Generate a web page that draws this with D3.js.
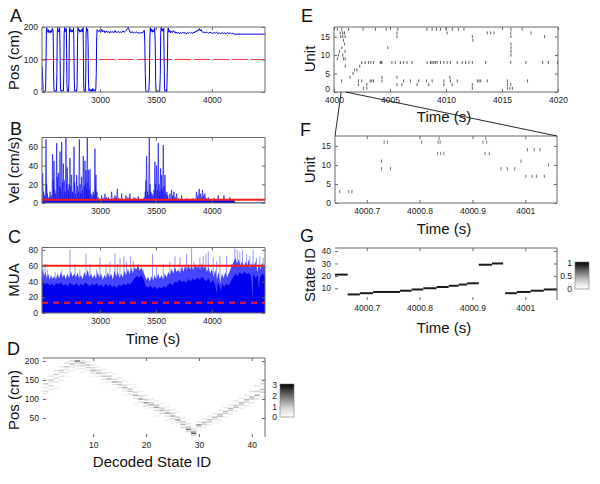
<!DOCTYPE html>
<html>
<head>
<meta charset="utf-8">
<script src="https://cdn.jsdelivr.net/npm/d3@7"></script>
<style>
  body { margin: 0; background: #fff; }
  svg { display: block; }
</style>
</head>
<body>
<div id="vis"></div>
<script>

var width = 600,
  height = 484;

var font = "'Liberation Sans', Arial, Helvetica, sans-serif";

/* Data */

// A: position trace [time s, pos cm]
var posTrace = [
  [2482,80],[2485,70],[2489,30],[2492,4],[2497,1],[2503,3],[2509,1],[2514,8],[2518,90],[2521,185],[2524,198],[2528,186],[2533,184],[2538,192],[2544,183],[2550,188],[2556,182],[2562,190],[2568,184],[2574,196],[2580,192],[2583,150],[2586,50],[2589,6],[2595,2],[2601,5],[2607,1],[2612,6],[2615,60],[2618,170],[2621,199],[2626,186],[2631,190],[2636,184],[2640,198],[2643,140],[2646,30],[2650,3],[2656,1],[2662,6],[2668,2],[2674,4],[2677,70],[2680,180],[2684,198],[2689,185],[2694,191],[2699,196],[2702,130],[2705,20],[2709,2],[2714,5],[2719,1],[2723,30],[2726,160],[2729,199],[2735,186],[2741,192],[2747,184],[2753,190],[2759,185],[2764,197],[2767,150],[2770,40],[2774,3],[2780,1],[2786,6],[2792,2],[2796,20],[2799,150],[2803,199],[2809,188],[2815,192],[2821,184],[2827,190],[2833,186],[2839,193],[2845,185],[2849,198],[2852,120],[2855,15],[2859,2],[2864,5],[2869,1],[2873,50],[2876,180],[2880,199],[2885,188],[2890,194],[2894,150],[2897,40],[2901,4],[2908,10],[2915,2],[2922,8],[2929,1],[2936,11],[2943,3],[2950,7],[2957,2],[2963,9],[2967,60],[2971,170],[2975,192],
  [2985,186],[2995,190],[3005,183],[3015,193],[3025,185],[3035,189],[3045,182],[3055,188],[3065,184],[3075,186],[3085,181],[3095,187],[3105,183],[3115,186],[3125,182],[3135,189],[3145,184],[3155,183],[3165,187],[3175,182],[3185,185],[3195,183],[3205,188],[3215,184],[3225,186],[3235,190],[3245,195],[3252,199],[3260,192],[3268,184],[3278,183],[3288,186],[3298,181],[3308,184],[3318,182],[3328,185],[3338,181],[3348,183],[3358,180],[3368,184],[3378,181],[3388,185],[3396,190],
  [3401,150],[3405,60],[3409,5],[3415,1],[3422,4],[3430,1],[3437,3],[3442,40],[3446,160],[3450,198],[3456,186],[3462,194],[3468,184],[3475,191],[3482,185],[3489,197],[3494,150],[3498,30],[3502,2],[3510,5],[3518,1],[3526,4],[3534,2],[3539,50],[3543,180],[3547,199],[3553,188],[3559,194],[3565,186],[3570,196],[3573,120],[3577,10],[3582,2],[3590,6],[3597,1],[3602,60],[3606,185],[3610,197],
  [3616,184],[3624,190],[3632,182],[3640,187],[3648,183],[3656,189],[3664,184],[3672,186],[3680,180],[3688,184],[3696,181],[3704,183],[3712,179],[3720,183],[3730,180],[3740,184],[3750,181],[3760,183],[3770,179],[3780,182],[3790,180],[3800,184],[3810,181],[3820,183],[3830,180],[3840,185],[3850,183],[3858,188],[3866,186],[3874,191],[3882,189],[3890,195],[3896,188],[3904,192],[3912,186],[3920,183],[3930,185],[3940,182],[3950,184],[3960,183],[3972,181],[3984,184],[3996,182],[4008,180],[4020,183],[4032,181],[4044,184],[4056,180],[4068,182],[4080,179],[4092,183],[4104,180],[4116,182],[4128,179],[4140,183],[4152,180],[4164,182],[4176,179],[4188,181],[4200,178],[4475,178]
];
var posMid = 100;

// B: velocity spikes [time s, cm/s] and floor band
var velSpikes = [
  [2488,32],[2496,12],[2505,8],[2518,68],[2523,20],[2530,10],[2545,6],[2554,12],[2565,8],[2577,52],[2582,25],[2589,45],[2595,14],[2604,10],[2613,64],[2618,28],[2628,32],[2636,18],[2643,55],[2650,16],[2658,65],[2664,22],[2673,42],[2680,24],[2687,12],[2696,70],[2702,20],[2708,38],[2716,14],[2724,20],[2732,48],[2740,18],[2747,30],[2755,12],[2761,10],[2768,60],[2774,22],[2784,10],[2792,30],[2800,18],[2808,12],[2816,68],[2822,20],[2830,10],[2836,28],[2843,14],[2851,50],[2858,18],[2866,45],[2871,20],[2875,35],[2881,15],[2887,70],[2892,22],[2896,35],[2903,14],[2911,36],[2920,10],[2930,8],[2940,12],[2948,9],[2955,58],[2960,16],[2964,30],[2972,12],[2985,6],
  [3015,8],[3030,5],[3045,10],[3060,6],[3075,6],[3090,4],[3104,12],[3120,5],[3134,8],[3145,6],[3155,15],[3170,5],[3194,10],[3210,4],[3232,8],[3250,6],[3268,10],[3285,4],[3304,6],[3320,5],[3342,7],[3370,4],[3395,6],
  [3405,12],[3411,24],[3417,50],[3425,12],[3433,8],[3441,70],[3447,20],[3455,12],[3465,10],[3475,8],[3484,14],[3491,44],[3498,20],[3506,40],[3512,14],[3521,64],[3527,20],[3535,12],[3542,37],[3547,16],[3551,30],[3558,14],[3566,62],[3572,18],[3581,30],[3590,10],[3598,12],[3606,8],
  [3625,10],[3640,14],[3650,8],[3661,12],[3672,6],[3685,10],[3700,5],[3730,8],[3750,4],[3774,5],[3800,4],[3830,5],[3863,12],[3875,8],[3887,15],[3899,10],[3910,6],[3917,14],[3925,8],[3938,10],[3950,5],[3968,6],[3990,4],[4020,5],[4057,8],[4080,4],[4108,8],[4130,4],[4161,6],[4185,3]
];
var velFloor = [[2482,4.5],[2960,4.5],[2990,3.5],[3400,3.5],[3610,4.5],[3640,3.5],[4200,3],[4210,0.5],[4475,0.5]];
var velThresh = 3.5;

// C: multi-unit activity
var muaBase = [
  [2482,44],[2495,40],[2510,36],[2530,38],[2550,35],[2570,37],[2590,34],[2610,38],[2630,36],[2650,39],[2670,35],[2690,37],[2710,34],[2730,38],[2750,36],[2770,35],[2790,38],[2810,34],[2830,37],[2850,35],[2870,39],[2890,36],[2910,34],[2930,37],[2950,35],[2970,38],[2990,34],[3010,36],[3030,33],[3050,37],[3070,34],[3090,36],[3110,33],[3130,35],[3150,32],[3170,36],[3190,34],[3210,37],[3230,35],[3250,38],[3270,36],[3290,40],[3310,44],[3330,47],[3350,45],[3370,48],[3390,42],[3410,34],[3430,32],[3450,35],[3470,31],[3490,34],[3510,30],[3530,33],[3550,31],[3570,34],[3590,32],[3610,36],[3630,38],[3650,35],[3670,40],[3690,38],[3710,42],[3730,39],[3750,41],[3770,38],[3790,43],[3810,40],[3830,44],[3850,41],[3870,45],[3890,42],[3910,46],[3930,43],[3950,40],[3970,44],[3990,38],[4010,42],[4030,36],[4045,24],[4050,40],[4070,34],[4085,28],[4090,38],[4110,33],[4130,37],[4150,35],[4170,40],[4190,45],[4210,50],[4230,47],[4250,52],[4270,48],[4290,53],[4310,49],[4330,51],[4350,46],[4365,18],[4370,50],[4390,44],[4410,48],[4420,30],[4430,45],[4450,50],[4475,47]
];
var muaMid = [
  [2482,50],[2490,58],[2500,46],[2512,52],[2525,44],[2538,50],[2550,42],[2562,48],[2575,43],[2590,47],[2605,42],[2620,50],[2635,44],[2650,52],[2665,45],[2680,49],[2695,43],[2710,50],[2725,44],[2740,53],[2755,46],[2770,50],[2785,45],[2800,51],[2815,44],[2830,48],[2845,43],[2860,52],[2875,46],[2890,55],[2905,45],[2920,50],[2935,44],[2950,49],[2965,43],[2980,52],[2995,45],[3010,50],[3025,42],[3040,48],[3055,44],[3070,52],[3085,45],[3100,50],[3115,42],[3130,54],[3145,46],[3160,52],[3175,44],[3190,50],[3205,45],[3220,54],[3235,47],[3250,56],[3265,49],[3280,57],[3295,50],[3310,58],[3325,55],[3340,60],[3355,54],[3370,58],[3385,52],[3400,48],[3415,42],[3430,46],[3445,40],[3460,47],[3475,41],[3490,48],[3505,42],[3520,50],[3535,43],[3550,48],[3565,42],[3580,50],[3595,45],[3610,52],[3625,48],[3640,56],[3655,50],[3670,58],[3685,52],[3700,55],[3715,50],[3730,58],[3745,52],[3760,60],[3775,54],[3790,62],[3805,55],[3820,60],[3835,54],[3850,62],[3865,56],[3880,60],[3895,55],[3910,63],[3925,56],[3940,60],[3955,52],[3970,58],[3985,50],[4000,56],[4015,45],[4030,55],[4045,42],[4060,52],[4075,38],[4090,50],[4105,44],[4120,52],[4135,45],[4150,50],[4165,55],[4180,60],[4195,65],[4210,70],[4225,62],[4240,68],[4255,60],[4270,66],[4285,58],[4300,65],[4315,60],[4330,68],[4345,56],[4360,64],[4375,58],[4390,66],[4405,52],[4420,62],[4435,55],[4450,64],[4465,58],[4475,60]
];
var muaSpikes = [
  [2509,62],[2530,55],[2600,52],[2660,55],[2732,80],[2777,62],[2820,55],[2875,75],[2911,62],[2970,55],[3000,70],[3054,62],[3089,65],[3134,75],[3155,62],[3179,70],[3214,72],[3238,65],[3274,72],[3298,66],[3342,62],[3387,55],[3470,75],[3506,60],[3566,62],[3625,65],[3670,72],[3715,70],[3738,60],[3774,75],[3819,82],[3840,65],[3863,60],[3893,70],[3923,72],[3947,75],[3968,78],[4012,70],[4042,65],[4072,72],[4131,72],[4176,62],[4206,82],[4227,80],[4250,78],[4274,80],[4310,75],[4340,72],[4369,80],[4399,70],[4429,72],[4459,70]
];
var muaHigh = 60,
  muaLow = 13;

// D: decoded state -> position occupancy, per state [pos cm, value]
var stateCells = [
  [[150,0.6],[140,0.9],[130,0.5],[120,0.7],[115,0.4],[100,0.5]],
  [[160,0.5],[150,0.9],[145,0.6],[135,0.7],[125,0.4]],
  [[175,0.6],[165,0.9],[155,0.7],[145,0.5],[130,0.4]],
  [[185,0.5],[175,1.0],[170,0.7],[160,0.6],[150,0.4]],
  [[195,0.6],[185,1.0],[178,0.6],[170,0.5],[160,0.3]],
  [[200,0.7],[192,1.1],[185,0.6],[175,0.4]],
  [[200,1.8],[195,0.8],[188,0.6],[180,0.4]],
  [[200,0.6],[195,1.2],[188,0.8],[180,0.5],[170,0.3]],
  [[198,0.5],[190,1.0],[183,0.8],[175,0.5]],
  [[190,0.4],[182,0.8],[175,1.3],[168,0.6],[160,0.3]],
  [[185,0.4],[175,0.9],[168,1.1],[160,0.5]],
  [[178,0.4],[168,0.8],[160,1.0],[152,0.6],[140,0.3]],
  [[170,0.5],[160,0.9],[153,1.2],[145,0.5]],
  [[165,0.4],[152,0.8],[145,1.3],[138,0.6],[125,0.3]],
  [[155,0.5],[145,0.9],[138,1.1],[130,0.6]],
  [[148,0.4],[136,0.8],[130,1.2],[122,0.6],[110,0.3]],
  [[138,0.4],[126,0.9],[120,1.0],[112,0.6]],
  [[130,0.4],[118,0.8],[110,1.2],[102,0.5],[85,0.3]],
  [[120,0.4],[108,0.8],[100,1.4],[92,0.6]],
  [[110,0.5],[98,0.9],[90,1.5],[82,0.7],[75,0.3]],
  [[100,0.4],[90,0.8],[85,1.3],[78,0.6]],
  [[95,0.4],[84,0.9],[78,1.4],[70,0.6],[55,0.3]],
  [[88,0.4],[76,0.9],[70,1.2],[62,0.7]],
  [[80,0.4],[70,0.8],[63,1.4],[55,0.6],[45,0.3]],
  [[72,0.4],[62,0.9],[55,1.3],[48,0.8]],
  [[65,0.4],[52,0.9],[45,1.5],[38,0.7],[30,0.3]],
  [[50,0.5],[40,1.0],[33,1.2],[25,0.8]],
  [[35,0.5],[26,1.0],[20,1.9],[14,0.8]],
  [[22,0.6],[15,1.2],[10,2.2],[5,0.8]],
  [[40,0.5],[32,1.6],[28,0.9],[20,0.4]],
  [[48,0.5],[38,1.2],[33,0.8],[25,0.4]],
  [[55,0.5],[45,1.0],[40,0.9],[32,0.4]],
  [[62,0.5],[52,1.1],[47,0.8],[38,0.4]],
  [[70,0.5],[60,1.0],[55,1.2],[45,0.4]],
  [[78,0.5],[67,1.1],[62,0.9],[52,0.4]],
  [[85,0.5],[75,1.2],[70,0.9],[60,0.5]],
  [[95,0.5],[83,1.0],[78,1.1],[68,0.4]],
  [[102,0.5],[90,1.1],[85,0.9],[75,0.4]],
  [[110,0.5],[98,1.2],[92,0.8],[82,0.4]],
  [[120,0.6],[105,1.1],[100,1.0],[90,0.5]],
  [[135,0.6],[120,0.9],[110,1.3],[100,0.6]],
  [[150,0.6],[140,0.7],[125,1.1],[118,0.9],[105,0.5]]
];
var binCm = 4;

// E: spike times per unit (index 0 = unit 1)
var eUnits = [
  [4002.63,4002.93,4012.35,4015.48,4015.72,4015.93],
  [4002.18,4002.93,4005.62,4006.07,4007.42,4008.46,4009.81,4010.55,4012.35,4015.48,4015.78],
  [4000.69,4002.18,4002.48,4003.23,4003.38,4003.53,4004.28,4006.22,4006.82,4007.57,4008.25,4008.76,4009.81,4010.4,4011.0,4012.8,4012.95,4013.1,4013.69,4015.48,4017.28],
  [4001.43,4004.28,4005.62,4010.34],
  [4001.7],
  [4001.85,4002.05],
  [4001.0,4002.3],
  [4002.48,4002.78,4003.08,4003.29,4003.53,4004.13,4004.2,4004.28,4005.17,4005.47,4005.92,4006.22,4006.52,4006.97,4008.31,4008.61,4008.75,4008.91,4009.05,4009.21,4009.51,4009.81,4010.1,4010.4,4011.0,4011.45,4011.75,4012.05,4012.35,4013.54,4015.78,4017.13,4018.63,4019.13,4019.97],
  [4000.3,4000.84,4001.0],
  [4000.4,4000.78,4015.8],
  [4000.5,4000.99,4015.8],
  [4000.7,4004.8,4015.8],
  [4000.93,4015.8],
  [4000.84,4012.4],
  [4000.6,4000.78,4000.99,4005.62,4012.35,4015.8,4018.8],
  [4000.55,4000.78,4000.93,4005.62,4010.1,4013.69,4013.99,4014.29,4015.78,4017.58],
  [4000.3,4000.69,4001.3,4002.6,4003.7,4004.66,4005.7,4008.3,4008.76,4009.15,4009.5,4010.0,4010.56,4011.1,4011.6,4015.8,4016.8]
];

// F: zoomed spikes [unit, time]
var fSpikes = [
  [3,4000.649],[3,4000.666],[3,4000.672],
  [16,4000.733],[16,4000.739],[16,4000.804],[16,4000.835],[16,4000.839],[16,4000.920],[16,4000.927],
  [17,4000.837],[17,4000.925],
  [13,4000.834],[13,4000.840],[13,4000.846],[13,4000.924],[13,4000.932],
  [11,4000.728],[11,4000.992],
  [9,4000.728],[9,4000.745],[9,4000.954],[9,4000.966],[9,4000.980],
  [14,4001.004],[14,4001.017],[14,4001.028],
  [7,4001.001],[7,4001.013],[7,4001.021],[7,4001.036],
  [10,4001.044]
];
var zoomWindow = [4000.64, 4001.06];

// G: decoded state segments [start, end, state]
var gSegments = [
  [4000.640,4000.664,21],[4000.664,4000.687,5],[4000.687,4000.712,6],[4000.712,4000.763,7],[4000.763,4000.785,8],[4000.785,4000.807,9],[4000.807,4000.832,10],[4000.832,4000.855,11],[4000.855,4000.874,12],[4000.874,4000.890,13],[4000.890,4000.912,14],[4000.912,4000.937,29],[4000.937,4000.958,30],[4000.962,4000.984,6],[4000.984,4001.010,7],[4001.010,4001.035,8],[4001.035,4001.060,9]
];

var timeTicks = [3000, 3500, 4000],
  eTicks = [4000, 4005, 4010, 4015, 4020],
  fTicks = [4000.7, 4000.8, 4000.9, 4001],
  stateTicks = [10, 20, 30, 40],
  unitTicks = [0, 5, 10, 15],
  dCbarTicks = [0, 1, 2, 3],
  gCbarTicks = [0, 0.5, 1];

/* Scales */

var xT = d3.scaleLinear().domain( [ 2482, 4475 ] ).range( [ 42, 265 ] );
var yA = d3.scaleLinear().domain( [ 0, 200 ] ).range( [ 92, 27 ] );
var yB = d3.scaleLinear().domain( [ 0, 70 ] ).range( [ 203, 137.5 ] );
var yC = d3.scaleLinear().domain( [ 0, 83 ] ).range( [ 313, 247.5 ] );
var xD = d3.scaleLinear().domain( [ 0.5, 42.5 ] ).range( [ 43, 265 ] );
var yD = d3.scaleLinear().domain( [ 0, 208 ] ).range( [ 437, 358 ] );
var xE = d3.scaleLinear().domain( [ 4000, 4020 ] ).range( [ 334, 558 ] );
var yE = d3.scaleLinear().domain( [ 0, 17.6 ] ).range( [ 92, 27 ] );
var xF = d3.scaleLinear().domain( zoomWindow ).range( [ 335, 557 ] );
var yF = d3.scaleLinear().domain( [ 0, 17.6 ] ).range( [ 203, 136 ] );
var yG = d3.scaleLinear().domain( [ 0.5, 42.5 ] ).range( [ 300, 248 ] );
var grey3 = d3.scaleSequential( d3.interpolateGreys ).domain( [ 0, 3 ] );

/* Helpers */

var svg = d3.select( '#vis' ).append( 'svg' )
  .attr( 'width', width )
  .attr( 'height', height )
  .style( 'font-family', font );

var defs = svg.append( 'defs' );

function clip( id, x, y ) {
  defs.append( 'clipPath' ).attr( 'id', id )
    .append( 'rect' )
      .attr( 'x', x.range()[0] )
      .attr( 'y', y.range()[1] )
      .attr( 'width', x.range()[1] - x.range()[0] )
      .attr( 'height', y.range()[0] - y.range()[1] );
  return 'url(#' + id + ')';
}

function frame( x, y, xt, yt, opt ) {
  opt = opt || {};
  var x0 = x.range()[0], x1 = x.range()[1],
    yb = y.range()[0], yt0 = y.range()[1];
  var g = svg.append( 'g' ).attr( 'color', '#666' );
  var xf = opt.xfmt || ( d => d );
  var yf = opt.yfmt || ( d => d );

  g.append( 'g' ).attr( 'transform', 'translate(0,' + yb + ')' )
    .call( d3.axisBottom( x ).tickValues( xt ).tickSize( -3 ).tickPadding( 5 ).tickFormat( xf ) );
  g.append( 'g' ).attr( 'transform', 'translate(0,' + yt0 + ')' )
    .call( d3.axisTop( x ).tickValues( xt ).tickSize( -3 ).tickFormat( '' ) );
  g.append( 'g' ).attr( 'transform', 'translate(' + x0 + ',0)' )
    .call( d3.axisLeft( y ).tickValues( yt ).tickSize( -3 ).tickPadding( 4 ).tickFormat( yf ) );
  g.append( 'g' ).attr( 'transform', 'translate(' + x1 + ',0)' )
    .call( d3.axisRight( y ).tickValues( yt ).tickSize( -3 ).tickFormat( '' ) );

  g.selectAll( '.domain' ).remove();
  g.selectAll( 'text' )
    .attr( 'fill', '#222' )
    .attr( 'font-size', 8.5 )
    .attr( 'font-family', font );

  var box = [ [ x0, yt0, x1, yt0 ], [ x1, yt0, x1, yb ] ];
  if ( !opt.open ) box.push( [ x0, yt0, x0, yb ], [ x0, yb, x1, yb ] );
  g.selectAll( 'line.box' )
    .data( box )
    .enter().append( 'line' )
      .attr( 'class', 'box' )
      .attr( 'x1', d => d[0] ).attr( 'y1', d => d[1] )
      .attr( 'x2', d => d[2] ).attr( 'y2', d => d[3] )
      .attr( 'stroke', '#666' )
      .attr( 'stroke-width', 1 );
  return g;
}

function label( txt, x, y, size, rot ) {
  svg.append( 'text' )
    .attr( 'transform', 'translate(' + x + ',' + y + ')' + ( rot ? 'rotate(-90)' : '' ) )
    .attr( 'text-anchor', 'middle' )
    .attr( 'font-size', size )
    .attr( 'fill', '#111' )
    .text( txt );
}

function letter( txt, x, y ) {
  svg.append( 'text' )
    .attr( 'x', x ).attr( 'y', y )
    .attr( 'font-size', 18 )
    .attr( 'fill', '#111' )
    .text( txt );
}

function colorbar( id, x, y0, y1, scale, ticks, interp ) {
  var grad = defs.append( 'linearGradient' ).attr( 'id', id )
    .attr( 'x1', 0 ).attr( 'y1', 1 ).attr( 'x2', 0 ).attr( 'y2', 0 );
  d3.range( 0, 1.01, 0.1 ).forEach( t => {
    grad.append( 'stop' ).attr( 'offset', t ).attr( 'stop-color', interp( t ) );
  } );
  svg.append( 'rect' )
    .attr( 'x', x ).attr( 'y', y0 )
    .attr( 'width', 14 ).attr( 'height', y1 - y0 )
    .attr( 'fill', 'url(#' + id + ')' )
    .attr( 'stroke', '#777' ).attr( 'stroke-width', 0.6 );
  svg.append( 'g' ).attr( 'transform', 'translate(' + ( x - 1 ) + ',0)' )
    .call( d3.axisLeft( scale ).tickValues( ticks ).tickSize( 0 ).tickPadding( 2 ).tickFormat( d => d ) )
    .call( g => g.select( '.domain' ).remove() )
    .selectAll( 'text' )
      .attr( 'fill', '#222' )
      .attr( 'font-size', 8.5 )
      .attr( 'font-family', font );
}

/* A: position */

var clipA = clip( 'clipA', xT, yA );

svg.append( 'line' )
  .attr( 'x1', xT.range()[0] ).attr( 'x2', xT.range()[1] )
  .attr( 'y1', yA( posMid ) ).attr( 'y2', yA( posMid ) )
  .attr( 'stroke', '#ff3b3b' )
  .attr( 'stroke-width', 1 )
  .attr( 'stroke-dasharray', '16,3' );

svg.append( 'path' )
  .datum( posTrace )
  .attr( 'clip-path', clipA )
  .attr( 'd', d3.line().x( d => xT( d[0] ) ).y( d => yA( d[1] ) ) )
  .attr( 'fill', 'none' )
  .attr( 'stroke', '#0000ee' )
  .attr( 'stroke-width', 1 );

frame( xT, yA, timeTicks, [ 0, 100, 200 ] );

/* B: velocity */

var clipB = clip( 'clipB', xT, yB );

svg.append( 'path' )
  .datum( velFloor )
  .attr( 'clip-path', clipB )
  .attr( 'd', d3.area().x( d => xT( d[0] ) ).y0( yB( 0 ) ).y1( d => yB( d[1] ) ) )
  .attr( 'fill', '#0000ee' );

svg.append( 'g' ).attr( 'clip-path', clipB )
  .selectAll( 'path.spike' )
  .data( velSpikes )
  .enter().append( 'path' )
    .attr( 'class', 'spike' )
    .attr( 'd', d => d3.line()( [
      [ xT( d[0] ) - 0.7, yB( 1 ) ], [ xT( d[0] ), yB( d[1] ) ], [ xT( d[0] ) + 0.7, yB( 1 ) ] ] ) )
    .attr( 'fill', 'none' )
    .attr( 'stroke', '#1515f0' )
    .attr( 'stroke-width', 0.7 );

svg.append( 'line' )
  .attr( 'x1', xT.range()[0] ).attr( 'x2', xT.range()[1] )
  .attr( 'y1', yB( velThresh ) ).attr( 'y2', yB( velThresh ) )
  .attr( 'stroke', '#ff1a1a' )
  .attr( 'stroke-width', 2 );

frame( xT, yB, timeTicks, [ 0, 20, 40, 60 ] );

/* C: MUA */

var clipC = clip( 'clipC', xT, yC );
var gC = svg.append( 'g' ).attr( 'clip-path', clipC );

gC.selectAll( 'line.mspike' )
  .data( muaSpikes )
  .enter().append( 'line' )
    .attr( 'class', 'mspike' )
    .attr( 'x1', d => xT( d[0] ) ).attr( 'x2', d => xT( d[0] ) )
    .attr( 'y1', yC( 35 ) ).attr( 'y2', d => yC( d[1] ) )
    .attr( 'stroke', '#8c8cff' )
    .attr( 'stroke-width', 0.9 );

gC.append( 'path' )
  .datum( muaMid )
  .attr( 'd', d3.area().x( d => xT( d[0] ) ).y0( yC( 0 ) ).y1( d => yC( d[1] ) ) )
  .attr( 'fill', '#4545ff' );

gC.append( 'path' )
  .datum( muaBase )
  .attr( 'd', d3.area().x( d => xT( d[0] ) ).y0( yC( 0 ) ).y1( d => yC( d[1] ) ) )
  .attr( 'fill', '#0000f0' );

svg.append( 'line' )
  .attr( 'x1', xT.range()[0] ).attr( 'x2', xT.range()[1] )
  .attr( 'y1', yC( muaHigh ) ).attr( 'y2', yC( muaHigh ) )
  .attr( 'stroke', '#ff1a1a' )
  .attr( 'stroke-width', 2 );

svg.append( 'line' )
  .attr( 'x1', xT.range()[0] ).attr( 'x2', xT.range()[1] )
  .attr( 'y1', yC( muaLow ) ).attr( 'y2', yC( muaLow ) )
  .attr( 'stroke', '#ff1a1a' )
  .attr( 'stroke-width', 2 )
  .attr( 'stroke-dasharray', '6,5' );

frame( xT, yC, timeTicks, [ 0, 20, 40, 60, 80 ] );

/* D: decoded state occupancy */

var dCells = [];
stateCells.forEach( ( cells, i ) => cells.forEach( c => dCells.push( { s: i + 1, pos: c[0], v: c[1] } ) ) );

svg.append( 'g' )
  .selectAll( 'rect.cell' )
  .data( dCells )
  .enter().append( 'rect' )
    .attr( 'class', 'cell' )
    .attr( 'x', d => xD( d.s - 0.5 ) )
    .attr( 'width', xD( 1.5 ) - xD( 0.5 ) )
    .attr( 'y', d => yD( d.pos + binCm / 2 ) )
    .attr( 'height', yD( 0 ) - yD( binCm ) )
    .attr( 'fill', d => grey3( d.v ) );

frame( xD, yD, stateTicks, [ 50, 100, 150, 200 ], { open: true } );

colorbar( 'cbD', 280, 384, 417,
  d3.scaleLinear().domain( [ 0, 3 ] ).range( [ 417, 385 ] ), dCbarTicks, d3.interpolateGreys );

/* E: raster */

var eSpikes = [];
eUnits.forEach( ( times, i ) => times.forEach( t => eSpikes.push( [ i + 1, t ] ) ) );

svg.append( 'g' ).attr( 'clip-path', clip( 'clipE', xE, yE ) )
  .selectAll( 'line' )
  .data( eSpikes )
  .enter().append( 'line' )
    .attr( 'x1', d => xE( d[1] ) ).attr( 'x2', d => xE( d[1] ) )
    .attr( 'y1', d => yE( d[0] - 0.4 ) ).attr( 'y2', d => yE( d[0] + 0.4 ) )
    .attr( 'stroke', '#333' )
    .attr( 'stroke-width', 0.8 );

var gE = frame( xE, yE, eTicks, unitTicks );
// the 0 label sits just above the 4000 label, as in the original
gE.selectAll( 'text' ).filter( d => d === 0 ).attr( 'dy', '-0.05em' );

/* F: zoomed raster */

svg.append( 'g' )
  .selectAll( 'line' )
  .data( fSpikes )
  .enter().append( 'line' )
    .attr( 'x1', d => xF( d[1] ) ).attr( 'x2', d => xF( d[1] ) )
    .attr( 'y1', d => yF( d[0] - 0.45 ) ).attr( 'y2', d => yF( d[0] + 0.45 ) )
    .attr( 'stroke', '#555' )
    .attr( 'stroke-width', 0.8 );

var fmt1 = d => String( +d.toFixed( 1 ) );
frame( xF, yF, fTicks, unitTicks, { xfmt: fmt1 } );

// zoom connector lines E -> F
svg.selectAll( 'line.connector' )
  .data( [ [ zoomWindow[0], xF.range()[0] ], [ zoomWindow[1], xF.range()[1] ] ] )
  .enter().append( 'line' )
    .attr( 'class', 'connector' )
    .attr( 'x1', d => xE( d[0] ) ).attr( 'y1', yE.range()[0] )
    .attr( 'x2', d => d[1] ).attr( 'y2', yF.range()[1] )
    .attr( 'stroke', '#111' )
    .attr( 'stroke-width', 0.9 );

/* G: decoded states */

svg.append( 'g' )
  .selectAll( 'line' )
  .data( gSegments )
  .enter().append( 'line' )
    .attr( 'x1', d => xF( d[0] ) ).attr( 'x2', d => xF( d[1] ) )
    .attr( 'y1', d => yG( d[2] ) ).attr( 'y2', d => yG( d[2] ) )
    .attr( 'stroke', '#1a1a1a' )
    .attr( 'stroke-width', 2 );

frame( xF, yG, fTicks, stateTicks, { xfmt: fmt1, open: true } );

colorbar( 'cbG', 575, 262, 289,
  d3.scaleLinear().domain( [ 0, 1 ] ).range( [ 288.5, 263 ] ), gCbarTicks, d3.interpolateGreys );

/* Labels */

letter( 'A', 10, 22 );
letter( 'B', 10, 135 );
letter( 'C', 8, 243 );
letter( 'D', 7, 355 );
letter( 'E', 301, 22 );
letter( 'F', 300, 136 );
letter( 'G', 300, 242 );

label( 'Pos (cm)', 19, 60, 15, true );
label( 'Vel (cm/s)', 19, 170, 15, true );
label( 'MUA', 19, 280, 15, true );
label( 'Pos (cm)', 19, 400, 15, true );
label( 'Time (s)', 153, 344, 15, false );
label( 'Decoded State ID', 152, 467, 15, false );

label( 'Unit', 315, 59, 15, true );
label( 'Time (s)', 444, 122, 15, false );
label( 'Unit', 315, 170, 15, true );
label( 'Time (s)', 444, 234, 15, false );
label( 'State ID', 315, 275, 15, true );
label( 'Time (s)', 444, 333, 15, false );

</script>
</body>
</html>
